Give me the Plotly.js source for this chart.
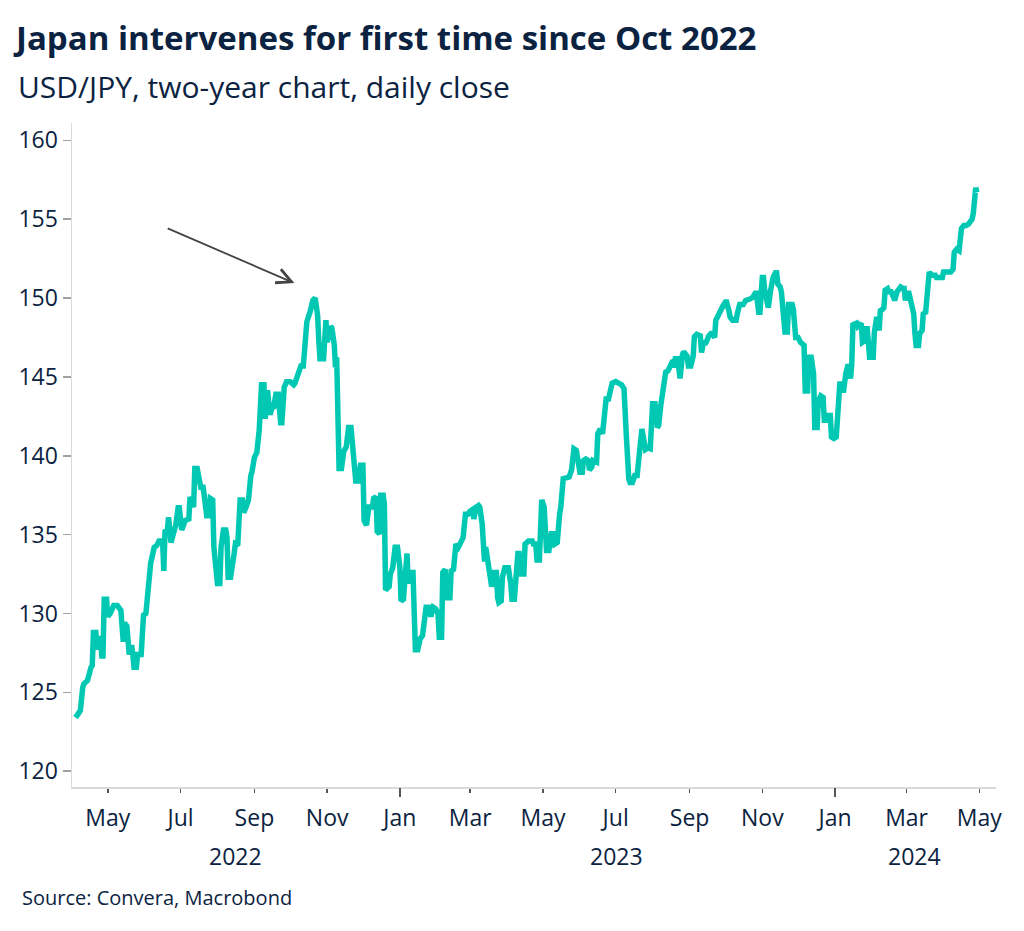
<!DOCTYPE html>
<html><head><meta charset="utf-8">
<script src="https://cdn.plot.ly/plotly-3.0.1.min.js"></script>
<style>html,body{margin:0;padding:0;background:#fff;} #chart{width:1024px;height:931px;}</style>
</head><body><div id="chart"></div>
<script>
const dates = [
'2022-04-04','2022-04-08','2022-04-10','2022-04-11','2022-04-14','2022-04-15','2022-04-17','2022-04-18','2022-04-19','2022-04-21',
'2022-04-22','2022-04-23','2022-04-25','2022-04-26','2022-04-27','2022-04-28','2022-04-30','2022-05-01','2022-05-03','2022-05-06',
'2022-05-09','2022-05-12','2022-05-13','2022-05-14','2022-05-15','2022-05-17','2022-05-19','2022-05-21','2022-05-22','2022-05-23',
'2022-05-25','2022-05-26','2022-05-29','2022-05-31','2022-06-02','2022-06-04','2022-06-06','2022-06-09','2022-06-11','2022-06-13',
'2022-06-16','2022-06-17','2022-06-18','2022-06-20','2022-06-21','2022-06-23','2022-06-27','2022-06-29','2022-06-30','2022-07-02',
'2022-07-05','2022-07-08','2022-07-09','2022-07-12','2022-07-13','2022-07-15','2022-07-18','2022-07-20','2022-07-23','2022-07-25',
'2022-07-26','2022-07-28','2022-07-29','2022-08-01','2022-08-03','2022-08-04','2022-08-06','2022-08-08','2022-08-09','2022-08-10',
'2022-08-12','2022-08-15','2022-08-16','2022-08-18','2022-08-20','2022-08-22','2022-08-23','2022-08-25','2022-08-27','2022-08-29',
'2022-08-30','2022-09-01','2022-09-03','2022-09-05','2022-09-07','2022-09-09','2022-09-10','2022-09-12','2022-09-14','2022-09-16',
'2022-09-17','2022-09-19','2022-09-21','2022-09-23','2022-09-24','2022-09-26','2022-09-28','2022-10-01','2022-10-04','2022-10-05',
'2022-10-08','2022-10-10','2022-10-12','2022-10-14','2022-10-15','2022-10-18','2022-10-20','2022-10-22','2022-10-24','2022-10-25',
'2022-10-26','2022-10-29','2022-10-30','2022-10-31','2022-11-01','2022-11-04','2022-11-05','2022-11-07','2022-11-08','2022-11-09',
'2022-11-11','2022-11-13','2022-11-15','2022-11-17','2022-11-19','2022-11-21','2022-11-23','2022-11-25','2022-11-27','2022-11-29',
'2022-12-01','2022-12-02','2022-12-04','2022-12-06','2022-12-09','2022-12-10','2022-12-12','2022-12-13','2022-12-15','2022-12-16',
'2022-12-18','2022-12-19','2022-12-20','2022-12-23','2022-12-24','2022-12-26','2022-12-28','2022-12-30','2023-01-01','2023-01-02',
'2023-01-04','2023-01-06','2023-01-07','2023-01-08','2023-01-10','2023-01-12','2023-01-13','2023-01-14','2023-01-16','2023-01-18',
'2023-01-20','2023-01-22','2023-01-23','2023-01-25','2023-01-27','2023-01-29','2023-01-31','2023-02-02','2023-02-03','2023-02-05',
'2023-02-06','2023-02-08','2023-02-09','2023-02-12','2023-02-13','2023-02-15','2023-02-16','2023-02-17','2023-02-19','2023-02-21',
'2023-02-23','2023-02-25','2023-02-27','2023-03-01','2023-03-03','2023-03-04','2023-03-06','2023-03-08','2023-03-09','2023-03-11',
'2023-03-12','2023-03-13','2023-03-14','2023-03-16','2023-03-17','2023-03-19','2023-03-21','2023-03-23','2023-03-24','2023-03-25',
'2023-03-27','2023-03-28','2023-03-30','2023-04-02','2023-04-04','2023-04-05','2023-04-07','2023-04-08','2023-04-10','2023-04-11',
'2023-04-13','2023-04-15','2023-04-16','2023-04-19','2023-04-22','2023-04-23','2023-04-25','2023-04-26','2023-04-28','2023-04-30',
'2023-05-02','2023-05-04','2023-05-06','2023-05-08','2023-05-10','2023-05-11','2023-05-13','2023-05-15','2023-05-16','2023-05-18',
'2023-05-21','2023-05-23','2023-05-25','2023-05-27','2023-05-29','2023-05-30','2023-06-01','2023-06-03','2023-06-04','2023-06-06',
'2023-06-08','2023-06-09','2023-06-11','2023-06-12','2023-06-15','2023-06-16','2023-06-18','2023-06-20','2023-06-21','2023-06-23',
'2023-06-25','2023-06-26','2023-06-28','2023-07-01','2023-07-03','2023-07-06','2023-07-08','2023-07-09','2023-07-10','2023-07-12',
'2023-07-13','2023-07-15','2023-07-17','2023-07-19','2023-07-22','2023-07-23','2023-07-26','2023-07-28','2023-07-30','2023-07-31',
'2023-08-01','2023-08-03','2023-08-05','2023-08-06','2023-08-08','2023-08-10','2023-08-12','2023-08-14','2023-08-16','2023-08-18',
'2023-08-19','2023-08-20','2023-08-22','2023-08-23','2023-08-24','2023-08-26','2023-08-27','2023-08-30','2023-08-31','2023-09-02',
'2023-09-04','2023-09-05','2023-09-07','2023-09-10','2023-09-11','2023-09-13','2023-09-14','2023-09-15','2023-09-17','2023-09-19',
'2023-09-20','2023-09-22','2023-09-23','2023-09-25','2023-09-27','2023-09-28','2023-09-29','2023-10-01','2023-10-02','2023-10-04',
'2023-10-05','2023-10-07','2023-10-10','2023-10-11','2023-10-13','2023-10-16','2023-10-18','2023-10-22','2023-10-24','2023-10-26',
'2023-10-27','2023-10-29','2023-10-30','2023-11-01','2023-11-02','2023-11-03','2023-11-05','2023-11-06','2023-11-08','2023-11-10',
'2023-11-12','2023-11-13','2023-11-14','2023-11-16','2023-11-17','2023-11-19','2023-11-20','2023-11-22','2023-11-23','2023-11-26',
'2023-11-27','2023-11-29','2023-12-01','2023-12-03','2023-12-06','2023-12-07','2023-12-09','2023-12-10','2023-12-12','2023-12-14',
'2023-12-15','2023-12-17','2023-12-18','2023-12-20','2023-12-22','2023-12-23','2023-12-25','2023-12-26','2023-12-28','2023-12-29',
'2023-12-31','2024-01-02','2024-01-04','2024-01-05','2024-01-07','2024-01-08','2024-01-10','2024-01-11','2024-01-12','2024-01-14',
'2024-01-15','2024-01-16','2024-01-19','2024-01-20','2024-01-21','2024-01-23','2024-01-24','2024-01-26','2024-01-27','2024-01-28',
'2024-01-30','2024-02-02','2024-02-03','2024-02-04','2024-02-05','2024-02-07','2024-02-08','2024-02-10','2024-02-11','2024-02-12',
'2024-02-14','2024-02-15','2024-02-17','2024-02-19','2024-02-20','2024-02-22','2024-02-24','2024-02-25','2024-02-27','2024-02-28',
'2024-02-29','2024-03-01','2024-03-03','2024-03-04','2024-03-05','2024-03-07','2024-03-08','2024-03-09','2024-03-11','2024-03-12',
'2024-03-14','2024-03-15','2024-03-17','2024-03-19','2024-03-20','2024-03-22','2024-03-25','2024-03-26','2024-03-29','2024-03-31',
'2024-04-01','2024-04-04','2024-04-07','2024-04-08','2024-04-09','2024-04-10','2024-04-12','2024-04-14','2024-04-15','2024-04-16',
'2024-04-18','2024-04-20','2024-04-22','2024-04-23','2024-04-25','2024-04-26','2024-04-27','2024-04-28','2024-04-29'
];
const closes = [
123.4,123.85,125.3,125.55,125.75,126.2,126.6,126.7,128.8,128.8,
127.7,128.5,128.3,127.3,127.3,130.9,130.9,129.8,130.0,130.5,
130.5,130.2,128.2,128.2,129.4,129.2,127.4,128.0,127.4,126.6,
126.6,127.4,127.4,129.9,130.0,131.3,133.2,134.2,134.3,134.6,
134.6,132.7,135.2,135.3,136.1,134.5,135.6,136.7,136.7,135.3,
135.9,136.0,137.4,136.75,139.2,139.2,138.0,138.0,136.2,136.2,
137.3,137.2,134.2,131.9,131.9,134.2,135.3,135.3,134.8,132.3,
132.3,133.8,134.4,134.3,137.2,137.2,136.4,136.75,137.2,138.75,
139.0,139.9,140.2,141.6,144.5,144.5,142.35,144.15,142.6,143.1,
143.0,143.9,143.9,142.1,142.1,144.35,144.7,144.7,144.5,144.6,
145.2,145.7,145.7,147.2,148.5,149.2,149.85,150.0,148.9,147.3,
146.15,146.15,148.6,148.6,147.2,148.2,148.1,147.0,145.6,146.25,
139.2,139.2,140.3,140.55,141.8,141.8,140.1,138.4,138.4,139.4,
139.4,135.9,135.6,136.75,136.75,137.3,137.4,135.2,135.05,137.5,
137.5,136.95,131.5,131.7,132.5,132.9,134.2,134.2,132.9,130.8,
130.9,133.8,133.8,131.9,132.6,132.6,130.0,127.7,127.7,128.4,
128.6,129.8,130.4,130.4,129.8,130.4,130.3,130.0,128.5,128.5,
132.6,132.8,131.0,131.0,132.7,132.8,134.2,134.4,134.2,134.6,
134.8,136.3,136.3,136.5,136.6,136.0,136.75,136.85,136.75,135.7,
133.4,133.3,134.2,133.05,132.8,131.7,132.6,132.6,131.0,130.7,
130.8,132.3,132.9,132.9,131.9,130.9,130.9,132.1,133.8,133.8,
132.5,132.5,134.4,134.6,134.6,134.4,134.4,133.4,133.4,137.2,
136.75,134.0,134.0,135.05,135.05,134.4,134.5,136.3,136.75,138.55,
138.65,138.65,139.1,140.45,140.35,139.7,138.95,138.95,139.7,139.8,
139.7,139.1,139.3,139.7,139.6,141.4,141.7,141.4,142.1,143.6,
143.6,143.9,144.6,144.7,144.6,144.5,144.25,142.0,141.2,138.55,
138.3,138.3,138.75,138.75,140.9,141.7,140.4,140.5,140.45,142.25,
143.3,143.3,141.8,141.9,143.3,144.35,145.3,145.4,145.8,146.05,
145.6,146.15,146.15,144.9,144.9,146.4,146.6,146.3,145.7,145.7,
146.3,147.55,147.7,147.6,146.55,147.3,147.1,147.2,147.6,147.75,
147.75,147.5,148.6,148.9,149.3,149.4,149.5,149.75,149.75,149.2,
148.8,148.6,148.6,149.0,149.6,149.6,149.85,149.95,150.06,150.3,
150.3,149.1,149.1,151.3,151.3,150.5,149.4,149.4,150.5,151.3,
151.6,151.6,150.9,150.7,150.4,149.0,147.85,147.85,149.6,149.6,
149.3,147.5,147.5,147.2,147.0,144.1,144.1,146.25,146.25,145.2,
141.8,141.8,143.5,143.8,143.7,142.25,142.25,142.55,142.55,141.2,
141.1,141.2,143.9,144.55,144.55,144.0,145.2,145.8,145.8,144.9,
145.8,148.3,148.4,148.2,148.3,148.4,147.2,147.3,148.05,148.05,
146.25,146.25,147.85,148.8,148.8,147.95,149.2,149.3,149.4,150.5,
150.6,150.4,150.4,150.06,149.85,150.4,150.6,150.7,150.6,150.6,
149.85,150.3,150.3,149.85,149.85,149.0,147.75,147.0,147.0,147.75,
147.95,149.0,149.1,151.3,151.65,151.45,151.45,151.3,151.3,151.3,
151.65,151.65,151.65,151.75,151.85,152.9,153.1,153.0,153.9,154.4,
154.6,154.6,154.7,154.8,155.0,155.4,157.0,157.0,156.7
];
const yTickValues = [120, 125, 130, 135, 140, 145, 150, 155, 160];
const yearTicks = ['2023-01-01', '2024-01-01'];
const yearLabels = ['2022', '2023', '2024'];
const xRange = ['2022-04-01', '2024-05-15'];
const yRange = [119, 161.1];
const titleText = 'Japan intervenes for first time since Oct 2022';
const subtitleText = 'USD/JPY, two-year chart, daily close';
const sourceText = 'Source: Convera, Macrobond';
const arrowFrom = {x: '2022-06-19', y: 154.46};
const arrowTo = {x: '2022-10-04 12:00', y: 150.95};

const NAVY = '#0b2341';
const TEAL = '#00c8b3';
const FONT = 'Open Sans, Noto Sans, sans-serif';

const t0 = new Date(xRange[0]).getTime(), t1 = new Date(xRange[1]).getTime();
const yearAnn = yearLabels.map(function (yr) {
  const s = Math.max(new Date(yr + '-01-01').getTime(), t0);
  const e = Math.min(new Date((+yr + 1) + '-01-01').getTime(), t1);
  const mid = new Date((s + e) / 2).toISOString().slice(0, 10);
  return {x: mid, xref: 'x', y: -0.1034, yref: 'paper', yanchor: 'middle', xanchor: 'center',
    text: yr, showarrow: false, font: {family: FONT, size: 23, color: NAVY}};
});

const traces = [
  {x: dates, y: closes, type: 'scatter', mode: 'lines', line: {color: TEAL, width: 5.5},
   hoverinfo: 'x+y', showlegend: false},
  {x: dates, y: closes, type: 'scatter', mode: 'lines', xaxis: 'x2', line: {width: 0},
   opacity: 0, hoverinfo: 'skip', showlegend: false}
];

const layout = {
  width: 1024, height: 931,
  paper_bgcolor: '#ffffff', plot_bgcolor: '#ffffff',
  margin: {l: 72, r: 28, t: 123, b: 144},
  title: {text: '<b>' + titleText + '</b>', x: 16 / 1024, xanchor: 'left', xref: 'container',
    y: 1 - 27 / 931, yanchor: 'top', yref: 'container',
    font: {family: FONT, size: 33, color: NAVY}},
  xaxis: {type: 'date', range: xRange, tickformat: '%b', dtick: 'M2', tick0: '2022-01-01',
    ticks: 'outside', ticklen: 4, tickwidth: 1.5, tickcolor: '#555555', ticklabelstandoff: 6,
    showline: true, linecolor: '#d9d9d9', linewidth: 1.5, showgrid: false, zeroline: false,
    tickfont: {family: FONT, size: 23, color: NAVY}, fixedrange: true},
  xaxis2: {type: 'date', range: xRange, overlaying: 'x', anchor: 'y', side: 'bottom',
    tickvals: yearTicks, showticklabels: false, ticks: 'outside', ticklen: 9, tickwidth: 1.5,
    tickcolor: '#555555', showline: false, showgrid: false, zeroline: false},
  yaxis: {range: yRange, tickvals: yTickValues, ticks: 'outside', ticklen: 8, tickwidth: 1.5,
    tickcolor: '#a0a0a0', showline: true, linecolor: '#d9d9d9', linewidth: 1.5,
    showgrid: false, zeroline: false, tickfont: {family: FONT, size: 23, color: NAVY}},
  annotations: [
    {x: -0.0603, xref: 'paper', y: 1.0552, yref: 'paper', xanchor: 'left', yanchor: 'middle',
     text: subtitleText, showarrow: false, font: {family: FONT, size: 30, color: NAVY}},
    {x: -0.0559, xref: 'paper', y: -0.1666, yref: 'paper', xanchor: 'left', yanchor: 'middle',
     text: sourceText, showarrow: false, font: {family: FONT, size: 20, color: NAVY}},
    {x: arrowTo.x, y: arrowTo.y, xref: 'x', yref: 'y', ax: arrowFrom.x, ay: arrowFrom.y,
     axref: 'x', ayref: 'y', text: '', showarrow: true, arrowhead: 5, arrowsize: 1.6,
     arrowwidth: 1.8, arrowcolor: '#444444'}
  ].concat(yearAnn)
};

Plotly.newPlot('chart', traces, layout, {displayModeBar: false, staticPlot: true});
</script>
</body></html>
